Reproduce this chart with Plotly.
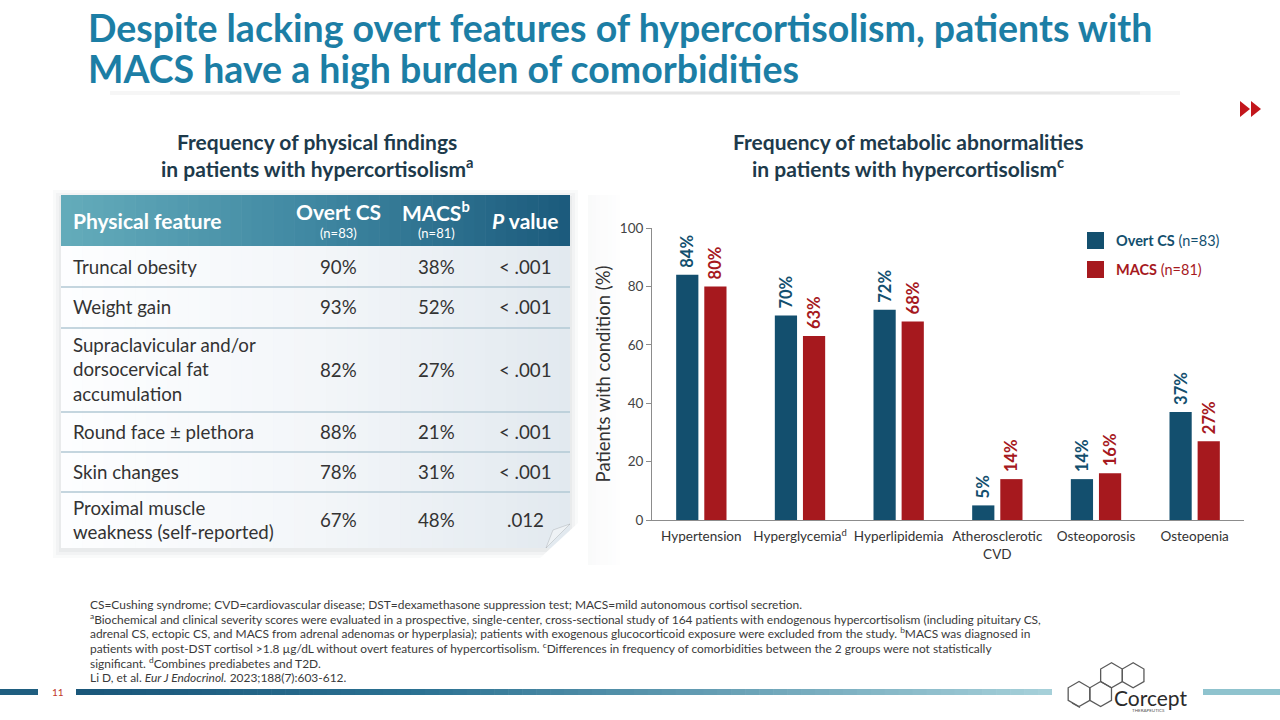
import math
import plotly.graph_objects as go

W, H = 1280, 720

# ---------------- data ----------------
conditions = ["Hypertension", "Hyperglycemia<sup>d</sup>", "Hyperlipidemia",
              "Atherosclerotic<br>CVD", "Osteoporosis", "Osteopenia"]
overt_cs_pct = [84, 70, 72, 5, 14, 37]
macs_pct = [80, 63, 68, 14, 16, 27]
y_tick_values = [0, 20, 40, 60, 80, 100]

series_names = ["Overt CS", "MACS"]
series_n = ["(n=83)", "(n=81)"]

table_features = ["Truncal obesity", "Weight gain",
                  "Supraclavicular and/or<br>dorsocervical fat<br>accumulation",
                  "Round face ± plethora", "Skin changes",
                  "Proximal muscle<br>weakness (self-reported)"]
table_overt = [90, 93, 82, 88, 78, 67]
table_macs = [38, 52, 27, 21, 31, 48]
table_p = ["< .001", "< .001", "< .001", "< .001", "< .001", ".012"]

title_lines = ["Despite lacking overt features of hypercortisolism, patients with",
               "MACS have a high burden of comorbidities"]
left_subtitle = ["Frequency of physical findings", "in patients with hypercortisolism<sup>a</sup>"]
right_subtitle = ["Frequency of metabolic abnormalities", "in patients with hypercortisolism<sup>c</sup>"]
footnotes = [
    "CS=Cushing syndrome; CVD=cardiovascular disease; DST=dexamethasone suppression test; MACS=mild autonomous cortisol secretion.",
    "<sup>a</sup>Biochemical and clinical severity scores were evaluated in a prospective, single-center, cross-sectional study of 164 patients with endogenous hypercortisolism (including pituitary CS,",
    "adrenal CS, ectopic CS, and MACS from adrenal adenomas or hyperplasia); patients with exogenous glucocorticoid exposure were excluded from the study. <sup>b</sup>MACS was diagnosed in",
    "patients with post-DST cortisol >1.8 µg/dL without overt features of hypercortisolism. <sup>c</sup>Differences in frequency of comorbidities between the 2 groups were not statistically",
    "significant. <sup>d</sup>Combines prediabetes and T2D.",
    "Li D, et al. <i>Eur J Endocrinol.</i> 2023;188(7):603-612.",
]
page_number = "11"

# ---------------- styles ----------------
OVERT = "#134f6e"
MACS_C = "#a6191e"
TITLE_C = "#1c7ea5"
DARK = "#1d3a4b"
TEXT = "#333333"
FONT = "Lato"

shapes, annotations = [], []


def X(p):
    return p / W


def Y(p):
    return 1 - p / H


def rect(x0, y0, x1, y1, fill, line_color=None, lw=0, layer="below"):
    shapes.append(dict(type="rect", xref="paper", yref="paper",
                       x0=X(x0), x1=X(x1), y0=Y(y1), y1=Y(y0),
                       fillcolor=fill, line=dict(width=lw, color=line_color or fill),
                       layer=layer))


def line(x0, y0, x1, y1, color, lw=1, layer="below"):
    shapes.append(dict(type="line", xref="paper", yref="paper",
                       x0=X(x0), x1=X(x1), y0=Y(y0), y1=Y(y1),
                       line=dict(width=lw, color=color), layer=layer))


def poly(points, fill=None, line_color=None, lw=0, layer="below"):
    d = "M " + " L ".join(f"{X(a):.5f},{Y(b):.5f}" for a, b in points) + " Z"
    shapes.append(dict(type="path", xref="paper", yref="paper", path=d,
                       fillcolor=fill if fill else "rgba(0,0,0,0)",
                       line=dict(width=lw, color=line_color or "rgba(0,0,0,0)"),
                       layer=layer))


def text(x, y, s, size, color, xanchor="left", yanchor="middle", align="left"):
    annotations.append(dict(x=X(x), y=Y(y), xref="paper", yref="paper", text=s,
                            showarrow=False, xanchor=xanchor, yanchor=yanchor,
                            align=align, font=dict(family=FONT, size=size, color=color)))


def hex2rgb(c):
    c = c.lstrip("#")
    return [int(c[i:i + 2], 16) for i in (0, 2, 4)]


def grad_color(stops, t):
    for (t0, c0), (t1, c1) in zip(stops[:-1], stops[1:]):
        if t <= t1:
            u = 0 if t1 == t0 else (t - t0) / (t1 - t0)
            a, b = hex2rgb(c0), hex2rgb(c1)
            return "rgb(%d,%d,%d)" % tuple(round(a[i] + (b[i] - a[i]) * u) for i in range(3))
    a = hex2rgb(stops[-1][1])
    return "rgb(%d,%d,%d)" % tuple(a)


def hgrad(x0, y0, x1, y1, stops, n=48):
    w = (x1 - x0) / n
    for i in range(n):
        rect(x0 + i * w, y0, min(x1, x0 + (i + 1) * w + 0.6), y1,
             grad_color(stops, (i + 0.5) / n))


# ---------------- title ----------------
for i, t in enumerate(title_lines):
    text(86, 28 + i * 40, "<b>" + t + "</b>", 37.5, TITLE_C)
# soft shadow under the title
for k, a in [(0, 0.035), (1, 0.03), (2, 0.025), (3, 0.02)]:
    line(110 + k * 60, 93, 1180 - k * 40, 93, f"rgba(0,0,0,{a})", 4 - k * 0.8)

# red double arrow
poly([(1240, 101), (1240, 117), (1250, 109)], fill="#c3161c")
poly([(1251, 101), (1251, 117), (1261, 109)], fill="#c3161c")

# faint panel shade left of the chart
for k in range(8):
    rect(588 + k * 4, 195, 592 + k * 4, 565, f"rgba(40,60,80,{0.028 - k * 0.0035:.4f})")

# ---------------- table ----------------
TX0, TX1 = 61, 570
HY0, HY1 = 195, 246
row_edges = [246, 287, 328, 412, 452, 492, 548]
col_overt, col_macs, col_p = 338, 436, 525

for k, a in [(8, 0.025), (5, 0.03), (2, 0.04)]:
    rect(TX0 - k, HY0 - k + 3, TX1 + k, row_edges[-1] + k + 2, f"rgba(20,40,60,{a})")
hgrad(TX0, HY1, TX1, row_edges[-1], [(0, "#fdfeff"), (0.5, "#f3f6f9"), (1, "#e2e9ef")])
hgrad(TX0, HY0, TX1, HY1, [(0, "#64acbb"), (0.5, "#3f87a1"), (1, "#1b5a7c")])
for yy in row_edges[1:-1]:
    line(TX0, yy, TX1, yy, "#b2c9d5", 1.5)
# folded corner
poly([(TX1 + 9, 522), (TX1 + 9, 558), (540, 558)], fill="white")
poly([(TX1, 524), (546, 548), (553, 530)], fill="#eef2f5", line_color="rgba(0,0,0,0.12)", lw=1)

text(71, 220, "<b>Physical feature</b>", 21, "white")
text(col_overt, 211, "<b>" + series_names[0] + "</b>", 21, "white", xanchor="center")
text(col_overt, 233, series_n[0], 13, "white", xanchor="center")
text(col_macs, 211, "<b>" + series_names[1] + "<sup>b</sup></b>", 21, "white", xanchor="center")
text(col_macs, 233, series_n[1], 13, "white", xanchor="center")
text(col_p, 220, "<b><i>P</i> value</b>", 21, "white", xanchor="center")

for i, feat in enumerate(table_features):
    yc = (row_edges[i] + row_edges[i + 1]) / 2
    text(71, yc, feat, 18.7, TEXT)
    text(col_overt, yc, f"{table_overt[i]}%", 18.7, TEXT, xanchor="center")
    text(col_macs, yc, f"{table_macs[i]}%", 18.7, TEXT, xanchor="center")
    text(col_p, yc, table_p[i], 18.7, TEXT, xanchor="center")

# ---------------- subtitles ----------------
for i, s in enumerate(left_subtitle):
    text(317, 142 + i * 25, "<b>" + s + "</b>", 21, DARK, xanchor="center")
for i, s in enumerate(right_subtitle):
    text(908, 142 + i * 25, "<b>" + s + "</b>", 21, DARK, xanchor="center")

# ---------------- legend ----------------
for i, (nm, nn, col) in enumerate(zip(series_names, series_n, [OVERT, MACS_C])):
    yc = 240.5 + i * 29
    rect(1087, yc - 8.5, 1104, yc + 8.5, col)
    text(1114, yc, f"<b>{nm}</b> {nn}", 14.5, col)

# ---------------- footnotes ----------------
for i, fn in enumerate(footnotes):
    text(88, 604 + i * 14.7, fn, 11.95, "#3a3a3a")

# ---------------- bottom bar & logo ----------------
rect(0, 689, 38, 695, "#1f5e80")
text(58, 692, page_number, 10, "#c0392b", xanchor="center")
hgrad(76, 689, 1052, 695, [(0, "#1a5679"), (0.35, "#2b7192"), (1, "#a7d1da")], n=70)
rect(1203, 689, 1280, 695, "#8fc3ce")

r = 12.5
for cx, cy in [(1079, 694), (1079 + r * math.sqrt(3), 694),
               (1079 + 1.5 * r * math.sqrt(3), 694 - 1.5 * r),
               (1079 + 2.5 * r * math.sqrt(3), 694 - 1.5 * r)]:
    pts = [(cx + r * math.cos(math.radians(90 + 60 * k)),
            cy - r * math.sin(math.radians(90 + 60 * k))) for k in range(6)]
    poly(pts, line_color="#5a5a5a", lw=1.3)
line(1072, 703, 1080, 707.5, "#5a5a5a", 1.2)
text(1112, 697, "Corcept", 21, "#2b2b2b")
text(1148, 710, "THERAPEUTICS", 4.5, "#555", xanchor="center")

# ---------------- chart ----------------
fig = go.Figure()
for name, vals, col in [(series_names[0], overt_cs_pct, OVERT), (series_names[1], macs_pct, MACS_C)]:
    fig.add_trace(go.Bar(
        x=conditions, y=vals, name=name, marker=dict(color=col, line=dict(width=0)),
        texttemplate="\u00a0%{y}%", textposition="outside", textangle=-90,
        textfont=dict(family=FONT, size=16.5, color=col, weight="bold"),
        constraintext="none", cliponaxis=False,
    ))

fig.update_layout(
    width=W, height=H, margin=dict(l=0, r=0, t=0, b=0, autoexpand=False),
    paper_bgcolor="white", plot_bgcolor="rgba(0,0,0,0)",
    font=dict(family=FONT, color=TEXT),
    showlegend=False, barmode="group", bargap=0.43, bargroupgap=0.21,
    xaxis=dict(domain=[X(652), X(1244)], showline=True, linecolor="#8c8c8c", linewidth=1,
               ticks="", tickfont=dict(size=13.5, color="#333"), showgrid=False,
               fixedrange=True, automargin=False, ticklabelstandoff=4),
    yaxis=dict(domain=[Y(520), Y(228)], range=[0, 100], tickvals=y_tick_values,
               showline=True, linecolor="#8c8c8c", ticks="outside", ticklen=5,
               tickcolor="#8c8c8c", tickfont=dict(size=13.5, color="#444"),
               showgrid=False, zeroline=False, fixedrange=True, automargin=False,
               title=dict(text="Patients with condition (%)",
                          font=dict(size=18.5, color="#333"), standoff=4)),
    shapes=shapes, annotations=annotations,
)

fig.write_html(
    "out.html",
    config={"displayModeBar": False},
    post_script="document.body.style.margin='0px';"
                "document.documentElement.style.overflow='hidden';"
                "document.body.style.overflow='hidden';",
)
